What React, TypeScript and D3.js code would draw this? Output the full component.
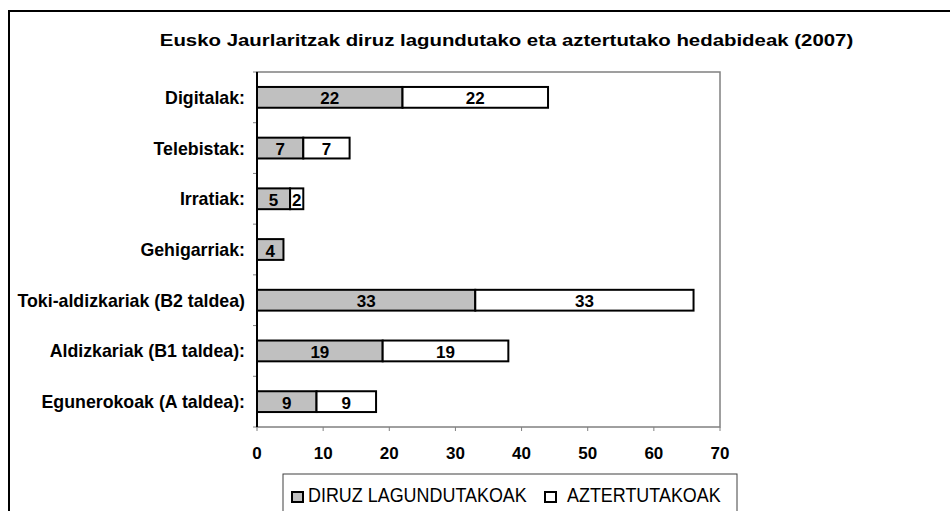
import React from "react";
import * as d3 from "d3";

const categories = [
  "Digitalak:",
  "Telebistak:",
  "Irratiak:",
  "Gehigarriak:",
  "Toki-aldizkariak (B2 taldea)",
  "Aldizkariak (B1 taldea):",
  "Egunerokoak (A taldea):",
];
const diruz = [22, 7, 5, 4, 33, 19, 9];
const aztertu = [22, 7, 2, 0, 33, 19, 9];
const xTicks = [0, 10, 20, 30, 40, 50, 60, 70];
const seriesNames = ["DIRUZ LAGUNDUTAKOAK", "AZTERTUTAKOAK"];
const title = "Eusko Jaurlaritzak diruz lagundutako eta aztertutako hedabideak (2007)";

const font = "'Liberation Sans', Arial, sans-serif";

function SText({ x, y, sx, fs, bold, anchor, children }: any) {
  return (
    <text
      transform={`translate(${x},${y}) scale(${sx},1)`}
      textAnchor={anchor || "start"}
      fontFamily={font}
      fontWeight={bold ? "bold" : "normal"}
      fontSize={fs}
    >
      {children}
    </text>
  );
}

export default function App() {
  const W = 950, H = 511;
  const left = 257, right = 720, top = 72, bottom = 427;
  const x = d3.scaleLinear().domain([0, 70]).range([left, right]);
  const y = d3.scaleBand().domain(categories).range([top, bottom]).paddingInner(0.59).paddingOuter(0.295);
  const bands = d3.range(categories.length + 1).map((i) => top + (i * (bottom - top)) / categories.length);
  return (
    <svg width={W} height={H} style={{ position: "absolute", left: 0, top: 0, display: "block" }}>
      <rect x={0} y={0} width={W} height={H} fill="#fff" />
      <rect x={9} y={11} width={W + 10} height={H + 10} fill="none" stroke="#000" strokeWidth={2} />
      <SText x={506.5} y={46} sx={1.2} fs={17} bold anchor="middle">{title}</SText>
      <rect x={left} y={top} width={right - left} height={bottom - top} fill="#fff" stroke="#808080" strokeWidth={1.5} />
      {bands.map((b, i) => (
        <line key={"yt" + i} x1={left - 4} x2={left} y1={b} y2={b} stroke="#808080" strokeWidth={1} />
      ))}
      {xTicks.map((t) => (
        <g key={"xt" + t}>
          <line x1={x(t)} x2={x(t)} y1={bottom} y2={bottom + 4} stroke="#808080" strokeWidth={1} />
          <SText x={x(t)} y={459} sx={1} fs={17} bold anchor="middle">{t}</SText>
        </g>
      ))}
      <line x1={left} x2={left} y1={top} y2={bottom} stroke="#000" strokeWidth={2} />
      {categories.map((c, i) => {
        const by = y(c)!;
        const bh = y.bandwidth();
        const cy = by + bh / 2;
        return (
          <g key={c}>
            <SText x={245} y={cy + 6.5} sx={0.935} fs={19} bold anchor="end">{c}</SText>
            {diruz[i] > 0 && (
              <g>
                <rect x={x(0)} y={by} width={x(diruz[i]) - x(0)} height={bh} fill="#c0c0c0" stroke="#000" strokeWidth={2} />
                <SText x={(x(0) + x(diruz[i])) / 2} y={cy + 7} sx={1} fs={17} bold anchor="middle">{diruz[i]}</SText>
              </g>
            )}
            {aztertu[i] > 0 && (
              <g>
                <rect x={x(diruz[i])} y={by} width={x(diruz[i] + aztertu[i]) - x(diruz[i])} height={bh} fill="#fff" stroke="#000" strokeWidth={2} />
                <SText x={(x(diruz[i]) + x(diruz[i] + aztertu[i])) / 2} y={cy + 7} sx={1} fs={17} bold anchor="middle">{aztertu[i]}</SText>
              </g>
            )}
          </g>
        );
      })}
      <rect x={283} y={474} width={454} height={50} fill="#fff" stroke="#404040" strokeWidth={1} />
      <rect x={292} y={492} width={11} height={10} fill="#c0c0c0" stroke="#000" strokeWidth={2} />
      <SText x={308} y={502} sx={0.92} fs={19.5}>{seriesNames[0]}</SText>
      <rect x={545} y={492} width={11} height={10} fill="#fff" stroke="#000" strokeWidth={2} />
      <SText x={567} y={502} sx={0.92} fs={19.5}>{seriesNames[1]}</SText>
    </svg>
  );
}
